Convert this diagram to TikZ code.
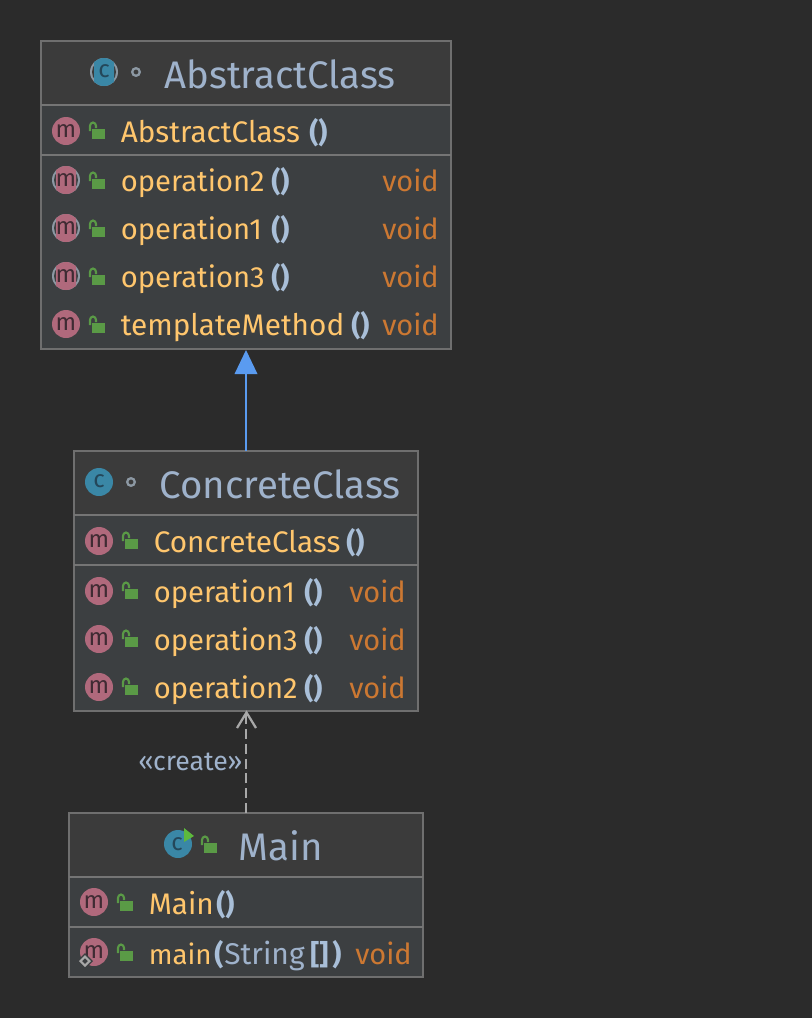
\documentclass[tikz,border=0pt]{standalone}
\usepackage{fontspec}
\setmainfont{Fira Sans}
\definecolor{bgc}{HTML}{2B2B2B}
\definecolor{headc}{HTML}{3B3B3B}
\definecolor{rowc}{HTML}{3C3F41}
\definecolor{edgec}{HTML}{6F6F6F}
\definecolor{sepc}{HTML}{757575}
\definecolor{titlec}{HTML}{9FB2CB}
\definecolor{methc}{HTML}{FFC66D}
\definecolor{voidc}{HTML}{CC7832}
\definecolor{parc}{HTML}{A9BFD8}
\definecolor{pinkc}{HTML}{B0697C}
\definecolor{mtxt}{HTML}{3F2B33}
\definecolor{bluec}{HTML}{3A87A6}
\definecolor{ctxt}{HTML}{24475A}
\definecolor{greyc}{HTML}{8C98A3}
\definecolor{lockc}{HTML}{5A9A46}
\definecolor{inhc}{HTML}{5A9BF0}
\definecolor{depc}{HTML}{A8A8A8}
\definecolor{playc}{HTML}{5DB83C}
\tikzset{
  x=0.75pt,y=-0.75pt,
  classbox/.style={draw=edgec,line width=0.9pt,fill=rowc,inner sep=0pt,outer sep=0pt,minimum width=#1},
  title/.style={anchor=base west,inner sep=0pt,text=titlec,font=\fontsize{28.8}{30}\selectfont},
  meth/.style={anchor=base west,inner sep=0pt,text=methc,font=\fontsize{22.3}{24}\selectfont},
  opname/.style={anchor=base west,inner sep=0pt,text=methc,font=\fontsize{21.9}{24}\selectfont},
  shortname/.style={anchor=base west,inner sep=0pt,text=methc,font=\fontsize{20.8}{24}\selectfont},
  voidt/.style={anchor=base west,inner sep=0pt,text=voidc,font=\fontsize{21.7}{24}\selectfont},
  par/.style={anchor=base west,inner sep=0pt,text=parc,font=\fontsize{21}{24}\selectfont\bfseries},
  typ/.style={anchor=base west,inner sep=0pt,text=titlec,font=\fontsize{22.5}{24}\selectfont},
  lbl/.style={anchor=base west,inner sep=0pt,text=titlec,font=\fontsize{20}{22}\selectfont},
  glyph/.style={inner sep=0pt,font=\fontsize{18}{20}\selectfont},
  sepline/.style={draw=sepc,line width=1.5pt},
  inherit/.style={draw=inhc,line width=1.9pt},
  depend/.style={draw=depc,line width=1.8pt,dash pattern=on 7.5pt off 3.6pt},
}
\newcommand{\lockicon}[2]{%
  \fill[lockc] (#1+4,#2-1) rectangle (#1+16.5,#2+8.5);
  \draw[lockc,line width=1.6pt] (#1+2,#2+1) -- (#1+2,#2-4) arc[start angle=180,end angle=0,x radius=3,y radius=-3.5] -- (#1+8,#2-2);
}
\newcommand{\micon}[3]{%
  \fill[pinkc] (#2,#3) circle[radius=14];
  \node[glyph,text=mtxt] (#1) at (#2,#3) {m};
}
\newcommand{\miconabs}[3]{%
  \fill[greyc] (#2,#3) circle[radius=14];
  \fill[rowc] (#2,#3) circle[radius=12];
  \begin{scope}
    \clip (#2,#3) circle[radius=14];
    \fill[pinkc,rounded corners=2pt] (#2-10,#3-15) rectangle (#2+10,#3+15);
  \end{scope}
  \node[glyph,text=mtxt] (#1) at (#2,#3) {m};
}
\newcommand{\ringdot}[2]{\draw[greyc,line width=1.7pt] (#1,#2) circle[radius=3.8];}
\begin{document}
\begin{tikzpicture}
\useasboundingbox (0,0) rectangle (812,1018);
\fill[bgc] (0,0) rectangle (812,1018);

% ---- boxes
\node[classbox=307.5pt,minimum height=231pt,anchor=north west] (abs) at (41,41) {};
\node[classbox=258pt,minimum height=195pt,anchor=north west] (con) at (74,451) {};
\node[classbox=265.5pt,minimum height=123pt,anchor=north west] (mainb) at (69,813) {};

% ---- headers
\fill[headc] (41.7,41.7) rectangle (450.3,104);
\fill[headc] (74.7,451.7) rectangle (417.3,514);
\fill[headc] (69.7,813.7) rectangle (422.3,876);
\draw[sepline] (41,105) -- (451,105);
\draw[sepline] (41,155) -- (451,155);
\draw[sepline] (74,515) -- (418,515);
\draw[sepline] (74,565) -- (418,565);
\draw[sepline] (69,877) -- (423,877);
\draw[sepline] (69,927) -- (423,927);

% ---- AbstractClass
\fill[greyc] (104,72) circle[radius=14];
\fill[headc] (104,72) circle[radius=12];
\begin{scope}
  \clip (104,72) circle[radius=14];
  \fill[bluec,rounded corners=2pt] (94,57) rectangle (114,87);
\end{scope}
\node[glyph,text=ctxt] (absc) at (104,71) {c};
\ringdot{136}{72}
\node[title] (abstitle) at (164,88) {AbstractClass};

\micon{am0}{66}{131}
\lockicon{88}{130}
\node[meth] (at0) at (120.5,142.5) {AbstractClass};
\node[par] (ap0) at (309,142.5) {()};

\miconabs{am1}{66}{180}
\lockicon{88}{180}
\node[opname] (at1) at (120.5,191.5) {operation2};
\node[par] (ap1) at (271,191.5) {()};
\node[voidt] (av1) at (382,191.5) {void};

\miconabs{am2}{66}{228}
\lockicon{88}{228}
\node[opname] (at2) at (120.5,239.5) {operation1};
\node[par] (ap2) at (271,239.5) {()};
\node[voidt] (av2) at (382,239.5) {void};

\miconabs{am3}{66}{276}
\lockicon{88}{276}
\node[opname] (at3) at (120.5,287.5) {operation3};
\node[par] (ap3) at (271,287.5) {()};
\node[voidt] (av3) at (382,287.5) {void};

\micon{am4}{66}{324}
\lockicon{88}{324}
\node[meth] (at4) at (120.5,335.5) {templateMethod};
\node[par] (ap4) at (351,335.5) {()};
\node[voidt] (av4) at (382,335.5) {void};

% ---- ConcreteClass
\fill[bluec] (99,482) circle[radius=14];
\node[glyph,text=ctxt] (conc) at (99,481) {c};
\ringdot{131}{482}
\node[title] (contitle) at (159.5,498.5) {ConcreteClass};

\micon{cm0}{99}{541}
\lockicon{121}{540}
\node[meth] (ct0) at (153.5,552.5) {ConcreteClass};
\node[par] (cp0) at (346,552.5) {()};

\micon{cm1}{99}{591}
\lockicon{121}{590}
\node[opname] (ct1) at (153.5,602.5) {operation1};
\node[par] (cp1) at (304,602.5) {()};
\node[voidt] (cv1) at (349,602.5) {void};

\micon{cm2}{99}{639}
\lockicon{121}{638}
\node[opname] (ct2) at (153.5,650.5) {operation3};
\node[par] (cp2) at (304,650.5) {()};
\node[voidt] (cv2) at (349,650.5) {void};

\micon{cm3}{99}{687}
\lockicon{121}{686}
\node[opname] (ct3) at (153.5,698.5) {operation2};
\node[par] (cp3) at (304,698.5) {()};
\node[voidt] (cv3) at (349,698.5) {void};

% ---- Main
\fill[bluec] (178,844) circle[radius=14];
\node[glyph,text=ctxt] (mainc) at (177,844) {c};
\fill[playc] (184,828) -- (194,836) -- (184,842) -- cycle;
\lockicon{200}{844}
\node[title] (maintitle) at (238.5,860.5) {Main};

\micon{mm0}{94}{902}
\lockicon{116}{902}
\node[meth] (mt0) at (148.5,914.5) {Main};
\node[par] (mp0) at (216,914.5) {()};

\micon{mm1}{94}{952}
\lockicon{116}{952}
\fill[rowc] (85,953) -- (93,961) -- (85,969) -- (77,961) -- cycle;
\draw[depc,line width=1.6pt] (85,956.5) -- (89.5,961) -- (85,965.5) -- (80.5,961) -- cycle;
\node[shortname] (mt1) at (148.5,964.5) {main};
\node[par] (mp1) at (214,964.5) {(};
\node[typ] (mty) at (224,964.5) {String};
\node[par] (mp2) at (310,964.5) {[]};
\node[par] (mp3) at (332,964.5) {)};
\node[voidt] (mv) at (355,964.5) {void};

% ---- connectors
\coordinate (ia) at (abs.south -| 246,0);
\coordinate (ib) at (con.north -| 246,0);
\coordinate (da) at (con.south -| 246,0);
\coordinate (db) at (mainb.north -| 246,0);
\draw[inherit] (ib) -- (246,372);
\fill[inhc] (ia) ++(0,1) -- (257.5,374) -- (234.5,374) -- cycle;
\draw[depend] (db) -- (da);
\draw[depc,line width=1.7pt] (237,728) -- (246.5,712.5) -- (256,728);
\node[lbl] (create) at (138,770) {«create»};
\end{tikzpicture}
\end{document}
